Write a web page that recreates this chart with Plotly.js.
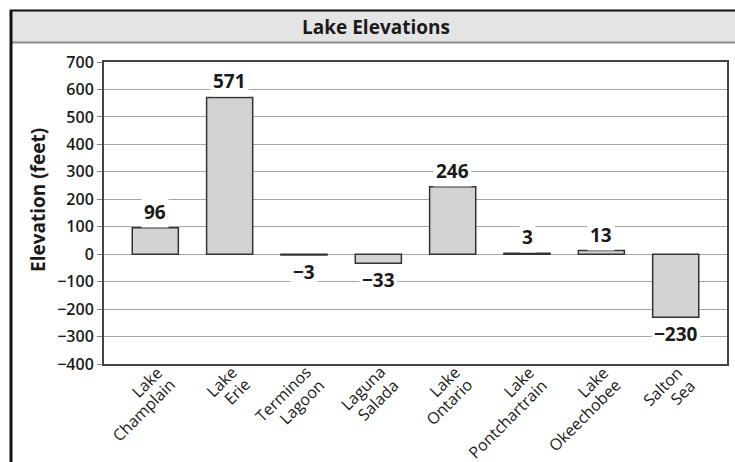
<!DOCTYPE html>
<html>
<head>
<meta charset="utf-8">
<script src="https://cdn.plot.ly/plotly-3.0.1.min.js"></script>
<style>
  html, body { margin: 0; padding: 0; background: #fff; }
  #chart { width: 735px; height: 462px; }
</style>
</head>
<body>
<div id="chart"></div>
<script>
// Data
const lakeLine1 = ["Lake", "Lake", "Terminos", "Laguna", "Lake", "Lake", "Lake", "Salton"];
const lakeLine2 = ["Champlain", "Erie", "Lagoon", "Salada", "Ontario", "Pontchartrain", "Okeechobee", "Sea"];
const elevations = [96, 571, -3, -33, 246, 3, 13, -230];
const yTicks = [-400, -300, -200, -100, 0, 100, 200, 300, 400, 500, 600, 700];
const chartTitle = "Lake Elevations";
const yTitle = "Elevation (feet)";

// Geometry (pixels)
const W = 735, H = 462;
const mL = 104, mR = 8, mT = 62, mB = 98;
const pw = W - mL - mR, ph = H - mT - mB;
const px = x => (x - mL) / pw;
const py = y => (H - mB - y) / ph;

const FONT = "'Open Sans', 'Noto Sans', sans-serif";
const idx = lakeLine1.map((_, i) => i);
const fmt = v => (v < 0 ? "\u2212" + Math.abs(v) : String(v));

const trace = {
  type: "bar",
  x: idx,
  y: elevations,
  width: 0.62,
  marker: { color: "#d3d3d3", line: { color: "#333333", width: 1.5 } },
  hoverinfo: "skip"
};

const annotations = [];
// value labels
elevations.forEach((v, i) => {
  annotations.push({
    x: i, y: v, xref: "x", yref: "y",
    text: "<b>" + fmt(v) + "</b>",
    showarrow: false,
    yanchor: v >= 0 ? "bottom" : "top",
    yshift: v >= 0 ? 0 : -1,
    bgcolor: "#ffffff",
    borderpad: 2,
    font: { family: FONT, size: 19, color: "#1a1a1a" }
  });
});
// category labels (two right-aligned lines, rotated)
const catFont = { family: FONT, size: 16, color: "#1a1a1a" };
idx.forEach(i => {
  annotations.push({
    x: i, y: 0, xref: "x", yref: "paper",
    text: lakeLine1[i], showarrow: false, textangle: -45,
    xanchor: "right", yanchor: "top",
    xshift: 13, yshift: 4, borderpad: 0,
    font: catFont
  });
  annotations.push({
    x: i, y: 0, xref: "x", yref: "paper",
    text: lakeLine2[i], showarrow: false, textangle: -45,
    xanchor: "right", yanchor: "top",
    xshift: 26, yshift: -9, borderpad: 0,
    font: catFont
  });
});
// y axis title
annotations.push({
  x: px(38), y: py(200), xref: "paper", yref: "paper",
  text: "<b>" + yTitle + "</b>",
  showarrow: false, textangle: -90,
  xanchor: "center", yanchor: "middle",
  font: { family: FONT, size: 19, color: "#1a1a1a" }
});

const shapes = [
  // title band
  { type: "rect", xref: "paper", yref: "paper", x0: px(11), x1: px(735), y0: py(42), y1: py(10),
    fillcolor: "#e4e4e4", line: { width: 0 }, layer: "below" },
  // band bottom line
  { type: "line", xref: "paper", yref: "paper", x0: px(11), x1: px(735), y0: py(42.5), y1: py(42.5),
    line: { color: "#8a8a8a", width: 2 } },
  // outer top line
  { type: "line", xref: "paper", yref: "paper", x0: px(10), x1: px(735), y0: py(10.5), y1: py(10.5),
    line: { color: "#111111", width: 2 } },
  // outer left line
  { type: "line", xref: "paper", yref: "paper", x0: px(11), x1: px(11), y0: py(10), y1: py(462),
    line: { color: "#111111", width: 3 } }
];

const layout = {
  width: W, height: H,
  margin: { l: mL, r: mR, t: mT, b: mB, pad: 0 },
  paper_bgcolor: "#ffffff",
  plot_bgcolor: "#ffffff",
  showlegend: false,
  title: {
    text: "<b>" + chartTitle + "</b>",
    xref: "paper", x: px(376), xanchor: "center",
    yref: "container", y: 1 - 27 / H, yanchor: "middle",
    font: { family: FONT, size: 19, color: "#1a1a1a" }
  },
  xaxis: {
    range: [-0.69, 7.69],
    showticklabels: false, ticks: "",
    showgrid: false, zeroline: false,
    showline: true, linecolor: "#444444", linewidth: 2, mirror: true,
    fixedrange: true
  },
  yaxis: {
    range: [-400, 700],
    tickvals: yTicks,
    ticktext: yTicks.map(fmt),
    ticks: "outside", ticklen: 5, tickcolor: "#888888", tickwidth: 1,
    showgrid: true, gridcolor: "#a6a6a6", gridwidth: 1,
    zeroline: false,
    showline: true, linecolor: "#444444", linewidth: 2, mirror: true,
    tickfont: { family: FONT, size: 16, color: "#1a1a1a", weight: 600 },
    fixedrange: true
  },
  annotations: annotations,
  shapes: shapes,
  bargap: 0.38
};

Plotly.newPlot("chart", [trace], layout, { displayModeBar: false, staticPlot: true });
</script>
</body>
</html>
